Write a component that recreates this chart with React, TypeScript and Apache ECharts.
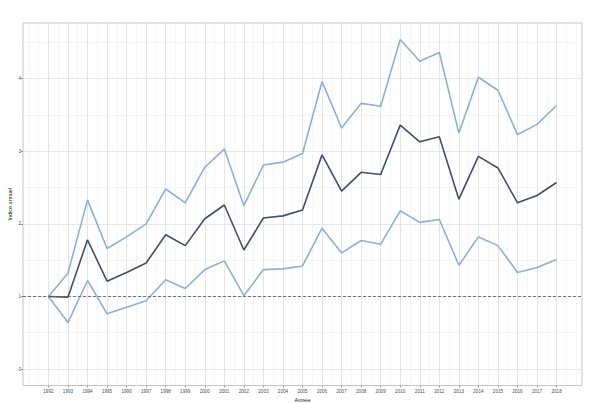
import React, { useEffect, useRef } from "react";
import * as echarts from "echarts";

const years = [1992, 1993, 1994, 1995, 1996, 1997, 1998, 1999, 2000, 2001, 2002, 2003, 2004, 2005, 2006, 2007, 2008, 2009, 2010, 2011, 2012, 2013, 2014, 2015, 2016, 2017, 2018];
const upperValues = [1.0, 1.32, 2.33, 1.66, 1.82, 2.0, 2.48, 2.29, 2.78, 3.03, 2.25, 2.81, 2.85, 2.97, 3.96, 3.32, 3.66, 3.62, 4.54, 4.24, 4.36, 3.25, 4.02, 3.84, 3.23, 3.37, 3.63];
const middleValues = [1.0, 0.99, 1.78, 1.21, 1.33, 1.46, 1.85, 1.70, 2.07, 2.26, 1.64, 2.08, 2.11, 2.19, 2.95, 2.45, 2.71, 2.68, 3.36, 3.13, 3.20, 2.34, 2.93, 2.77, 2.29, 2.39, 2.57];
const lowerValues = [1.0, 0.64, 1.22, 0.76, 0.85, 0.94, 1.23, 1.11, 1.37, 1.49, 1.01, 1.37, 1.38, 1.42, 1.94, 1.60, 1.77, 1.72, 2.18, 2.02, 2.06, 1.43, 1.82, 1.70, 1.33, 1.40, 1.51];
const yTicks = [0, 1, 2, 3, 4];
const yMinorBreaks = [0.5, 1.5, 2.5, 3.5, 4.5];
const xMinorBreaks: number[] = [];
for (let y = 1991; y <= 2019; y += 0.5) xMinorBreaks.push(y);
const referenceLevel = 1;

const xMin = 1990.7;
const xMax = 2019.3;
const yMin = -0.227;
const yMax = 4.767;

const FONT = "Liberation Sans, Arial, sans-serif";

export default function App() {
  const ref = useRef<HTMLDivElement>(null);
  useEffect(() => {
    document.body.style.margin = "0";
    if (!ref.current) return;
    const chart = echarts.init(ref.current, undefined, { renderer: "svg" });
    const pair = (vals: number[]) => years.map((yr, i) => [yr, vals[i]]);
    chart.setOption({
      animation: false,
      backgroundColor: "#ffffff",
      grid: {
        left: 23,
        right: 18,
        top: 23,
        bottom: 17.5,
        containLabel: false,
        outerBoundsMode: "none",
        show: true,
        borderColor: "#c4c4c4",
        borderWidth: 1,
        backgroundColor: "transparent",
      },
      xAxis: [
        {
          type: "value",
          min: xMin,
          max: xMax,
          position: "bottom",
          axisLine: { show: false, onZero: false },
          axisLabel: { show: false },
          axisTick: { show: false, customValues: xMinorBreaks },
          splitLine: { show: true, lineStyle: { color: "#f2f2f2", width: 0.8 } },
        },
        {
          type: "value",
          min: xMin,
          max: xMax,
          position: "bottom",
          offset: 0,
          name: "Année",
          nameLocation: "middle",
          nameGap: 11,
          nameMoveOverlap: false,
          nameTextStyle: { fontFamily: FONT, fontSize: 5.5, color: "#222" },
          axisLine: { show: false, onZero: false },
          axisTick: { show: true, length: 2, customValues: years, lineStyle: { color: "#555", width: 0.6 } },
          axisLabel: {
            show: true,
            customValues: years,
            fontSize: 4.6,
            fontFamily: FONT,
            color: "#4d4d4d",
            margin: 3,
            formatter: (v: number) => String(Math.round(v)),
          },
          splitLine: { show: true, lineStyle: { color: "#e6e6e6", width: 1 } },
        },
      ],
      yAxis: [
        {
          type: "value",
          min: yMin,
          max: yMax,
          position: "left",
          axisLine: { show: false, onZero: false },
          axisLabel: { show: false },
          axisTick: { show: false, customValues: yMinorBreaks },
          splitLine: { show: true, lineStyle: { color: "#f2f2f2", width: 0.8 } },
        },
        {
          type: "value",
          min: yMin,
          max: yMax,
          position: "left",
          offset: 0,
          name: "Indice annuel",
          nameLocation: "middle",
          nameRotate: 90,
          nameGap: 10,
          nameMoveOverlap: false,
          nameTextStyle: { fontFamily: FONT, fontSize: 5.5, color: "#222" },
          axisLine: { show: false, onZero: false },
          axisTick: { show: true, length: 2, customValues: yTicks, lineStyle: { color: "#555", width: 0.6 } },
          axisLabel: {
            show: true,
            customValues: yTicks,
            fontSize: 4.6,
            fontFamily: FONT,
            color: "#4d4d4d",
            margin: 2,
            formatter: (v: number) => String(Math.round(v)),
          },
          splitLine: { show: true, lineStyle: { color: "#e6e6e6", width: 1 } },
        },
      ],
      series: [
        {
          type: "line",
          name: "upper",
          xAxisIndex: 1,
          yAxisIndex: 1,
          data: pair(upperValues),
          showSymbol: false,
          symbol: "none",
          lineStyle: { color: "#8db0d6", width: 1.6 },
          z: 3,
          markLine: {
            silent: true,
            symbol: ["none", "none"],
            label: { show: false },
            lineStyle: { color: "#666666", width: 0.9, type: [3, 2] },
            data: [{ yAxis: referenceLevel }],
          },
        },
        {
          type: "line",
          name: "lower",
          xAxisIndex: 1,
          yAxisIndex: 1,
          data: pair(lowerValues),
          showSymbol: false,
          symbol: "none",
          lineStyle: { color: "#8db0d6", width: 1.6 },
          z: 3,
        },
        {
          type: "line",
          name: "middle",
          xAxisIndex: 1,
          yAxisIndex: 1,
          data: pair(middleValues),
          showSymbol: false,
          symbol: "none",
          lineStyle: { color: "#424e6e", width: 1.6 },
          z: 4,
        },
      ],
    });
    return () => chart.dispose();
  }, []);
  return <div ref={ref} style={{ width: 600, height: 403 }} />;
}
